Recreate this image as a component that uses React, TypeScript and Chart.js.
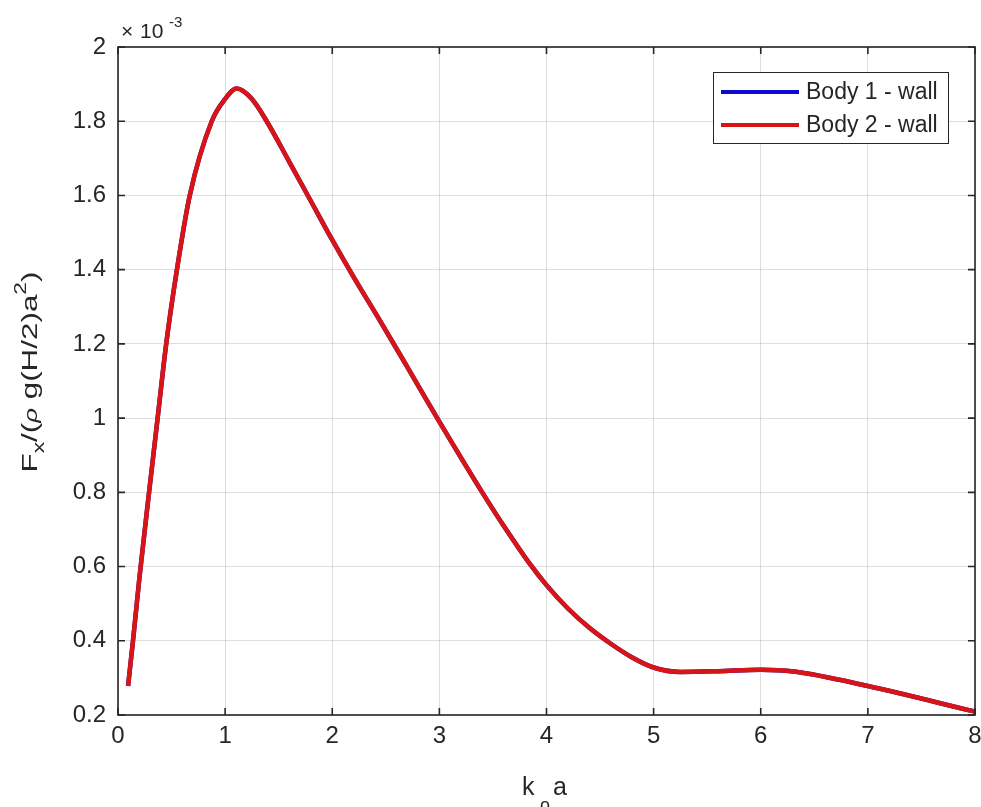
import React, { useEffect, useRef } from "react";
import { Chart, registerables } from "chart.js";

Chart.register(...registerables);

// k_o a values (x axis)
const kaValues = [0.094, 0.14, 0.2, 0.29, 0.37, 0.45, 0.55, 0.67, 0.875, 1.0, 1.108, 1.25, 1.388, 1.6, 1.8, 2.0, 2.2, 2.43, 2.7, 2.98, 3.4, 3.6, 3.85, 4.0, 4.2, 4.4, 4.6, 4.8, 5.0, 5.25, 5.6, 6.0, 6.31, 7.0, 8.0];
// Fx/(rho g (H/2) a^2) in units of 1e-3
const body1Values = [0.278, 0.4, 0.57, 0.8, 1.0, 1.2, 1.4, 1.6, 1.8, 1.86, 1.888, 1.86, 1.8, 1.69, 1.585, 1.48, 1.38, 1.27, 1.138, 1.0, 0.8, 0.71, 0.605, 0.55, 0.487, 0.435, 0.392, 0.355, 0.328, 0.316, 0.318, 0.322, 0.317, 0.278, 0.209];
const body2Values = [0.278, 0.4, 0.57, 0.8, 1.0, 1.2, 1.4, 1.6, 1.8, 1.86, 1.888, 1.86, 1.8, 1.69, 1.585, 1.48, 1.38, 1.27, 1.138, 1.0, 0.8, 0.71, 0.605, 0.55, 0.487, 0.435, 0.392, 0.355, 0.328, 0.316, 0.318, 0.322, 0.317, 0.278, 0.209];
const seriesNames = ["Body 1 - wall", "Body 2 - wall"];
const xTicks = [0, 1, 2, 3, 4, 5, 6, 7, 8];
const yTicks = [0.2, 0.4, 0.6, 0.8, 1.0, 1.2, 1.4, 1.6, 1.8, 2.0];

const FONT = "'Liberation Sans', Arial, Helvetica, sans-serif";
const TEXT = "#262626";
const BLUE = "#0a0ad0";
const RED = "#d81414";

const overlay = {
  id: "matlabOverlay",
  afterDraw(chart: any) {
    const { ctx, chartArea } = chart;
    const { left, right, top, bottom } = chartArea;
    const xs = chart.scales.x;
    const ys = chart.scales.y;
    ctx.save();
    // box
    ctx.strokeStyle = TEXT;
    ctx.lineWidth = 1.6;
    ctx.strokeRect(left, top, right - left, bottom - top);
    // inward ticks
    const tl = 7;
    ctx.beginPath();
    xTicks.forEach((v) => {
      const px = xs.getPixelForValue(v);
      ctx.moveTo(px, bottom);
      ctx.lineTo(px, bottom - tl);
      ctx.moveTo(px, top);
      ctx.lineTo(px, top + tl);
    });
    yTicks.forEach((v) => {
      const py = ys.getPixelForValue(v);
      ctx.moveTo(left, py);
      ctx.lineTo(left + tl, py);
      ctx.moveTo(right, py);
      ctx.lineTo(right - tl, py);
    });
    ctx.stroke();

    // x10^-3 multiplier
    ctx.fillStyle = TEXT;
    ctx.textBaseline = "alphabetic";
    ctx.textAlign = "left";
    ctx.font = `21px ${FONT}`;
    ctx.fillText("\u00d7", left + 3, top - 9);
    ctx.font = `21px ${FONT}`;
    ctx.fillText("10", left + 22, top - 9);
    ctx.font = `15px ${FONT}`;
    ctx.fillText("-3", left + 51, top - 20);

    // y axis title with sub/superscripts (rotated)
    const yParts: [string, string, number][] = [
      ["F", `22px ${FONT}`, 0],
      ["x", `16px ${FONT}`, 7],
      ["/(", `22px ${FONT}`, 0],
      ["\u03c1", `italic 18px ${FONT}`, 0],
      [" g(H/2)a", `22px ${FONT}`, 0],
      ["2", `16px ${FONT}`, -11],
      [")", `22px ${FONT}`, 0],
    ];
    let total = 0;
    yParts.forEach(([t, f]) => {
      ctx.font = f;
      total += ctx.measureText(t).width;
    });
    const targetLen = 201;
    const sx = targetLen / total;
    ctx.save();
    ctx.translate(37, 372);
    ctx.rotate(-Math.PI / 2);
    ctx.scale(sx, 1);
    let cx = -total / 2;
    yParts.forEach(([t, f, dy]) => {
      ctx.font = f;
      ctx.fillText(t, cx, dy);
      cx += ctx.measureText(t).width;
    });
    ctx.restore();

    // x axis title: k_o a
    ctx.font = `25px ${FONT}`;
    ctx.fillText("k", 522, 795);
    ctx.font = `18px ${FONT}`;
    ctx.fillText("o", 540, 811);
    ctx.font = `25px ${FONT}`;
    ctx.fillText("a", 553, 795);

    // legend
    const lx = 713, ly = 72, lw = 235, lh = 71;
    ctx.fillStyle = "#ffffff";
    ctx.fillRect(lx, ly, lw, lh);
    ctx.strokeStyle = "#262626";
    ctx.lineWidth = 1;
    ctx.strokeRect(lx + 0.5, ly + 0.5, lw, lh);
    const colors = [BLUE, RED];
    seriesNames.forEach((name, i) => {
      const yy = 92 + i * 33;
      ctx.strokeStyle = colors[i];
      ctx.lineWidth = 4;
      ctx.beginPath();
      ctx.moveTo(721, yy);
      ctx.lineTo(799, yy);
      ctx.stroke();
      ctx.fillStyle = TEXT;
      ctx.font = `23px ${FONT}`;
      ctx.textBaseline = "middle";
      ctx.fillText(name, 806, yy + 1);
    });
    ctx.restore();
  },
};

export default function App() {
  const ref = useRef<HTMLCanvasElement | null>(null);
  useEffect(() => {
    if (!ref.current) return;
    const mk = (vals: number[]) => kaValues.map((x, i) => ({ x, y: vals[i] }));
    const chart = new Chart(ref.current, {
      type: "line",
      data: {
        datasets: [
          {
            label: seriesNames[0],
            data: mk(body1Values),
            borderColor: BLUE,
            borderWidth: 4.5,
            pointRadius: 0,
            cubicInterpolationMode: "monotone",
            order: 2,
          },
          {
            label: seriesNames[1],
            data: mk(body2Values),
            borderColor: RED,
            borderWidth: 4.5,
            pointRadius: 0,
            cubicInterpolationMode: "monotone",
            order: 1,
          },
        ],
      },
      options: {
        animation: false,
        responsive: false,
        maintainAspectRatio: false,
        layout: { padding: { top: 47, right: 6, left: 0, bottom: 0 } },
        plugins: { legend: { display: false }, tooltip: { enabled: false } },
        scales: {
          x: {
            type: "linear",
            min: 0,
            max: 8,
            afterFit: (s: any) => { s.height = 92; s.paddingLeft = 0; s.paddingRight = 0; },
            afterBuildTicks: (s: any) => { s.ticks = xTicks.map((v) => ({ value: v })); },
            grid: { color: "rgba(0,0,0,0.13)", lineWidth: 1, drawTicks: false },
            border: { display: false },
            ticks: {
              padding: 7,
              color: TEXT,
              font: { family: FONT, size: 24 },
              callback: (v: any) => String(v),
              maxRotation: 0,
            },
          },
          y: {
            type: "linear",
            min: 0.2,
            max: 2,
            afterFit: (s: any) => { s.width = 118; s.paddingTop = 0; s.paddingBottom = 0; },
            afterBuildTicks: (s: any) => { s.ticks = yTicks.map((v) => ({ value: v })); },
            grid: { color: "rgba(0,0,0,0.13)", lineWidth: 1, drawTicks: false },
            border: { display: false },
            ticks: {
              padding: 12,
              color: TEXT,
              font: { family: FONT, size: 24 },
              callback: (v: any) => String(Number(Number(v).toFixed(1))),
            },
          },
        },
      },
      plugins: [overlay],
    } as any);
    return () => chart.destroy();
  }, []);
  return (
    <div style={{ position: "fixed", left: 0, top: 0, width: 981, height: 807, background: "#fff" }}>
      <canvas ref={ref} width={981} height={807} style={{ width: 981, height: 807, display: "block" }} />
    </div>
  );
}
